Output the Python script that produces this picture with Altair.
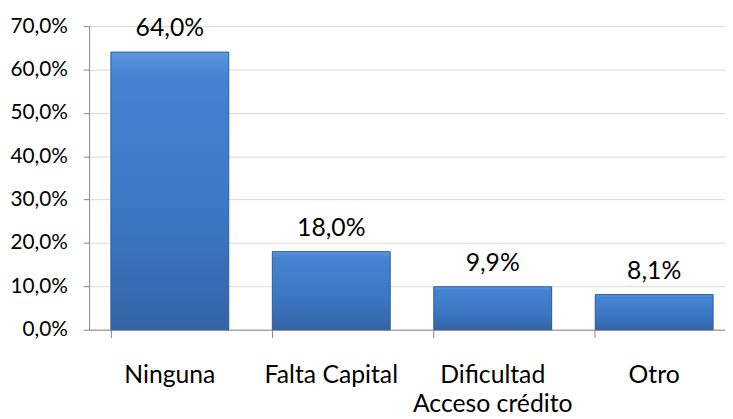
import altair as alt
import pandas as pd

categories = ["Ninguna", "Falta Capital", "Dificultad|Acceso crédito", "Otro"]
values = [64.0, 18.0, 9.9, 8.1]

df = pd.DataFrame({"cat": categories, "val": values})

FONT = "Lato"

x_enc = alt.X(
    "cat:N",
    sort=categories,
    scale=alt.Scale(paddingInner=0.27, paddingOuter=0.135),
    axis=alt.Axis(
        title=None,
        labelAngle=0,
        labelExpr="split(datum.label, '|')",
        labelFont=FONT,
        labelFontSize=25,
        labelColor="#000000",
        labelPadding=25,
        labelLineHeight=30,
        tickSize=8,
        tickColor="#888888",
        domainColor="#888888",
        bandPosition=0,
        grid=False,
    ),
)

y_enc = alt.Y(
    "val:Q",
    scale=alt.Scale(domain=[0, 70], nice=False),
    axis=alt.Axis(
        title=None,
        values=[0, 10, 20, 30, 40, 50, 60, 70],
        labelExpr="replace(format(datum.value, '.1f'), '.', ',') + '%'",
        labelFont=FONT,
        labelFontSize=21,
        labelColor="#000000",
        labelPadding=16,
        tickSize=6,
        tickColor="#888888",
        domainColor="#888888",
        gridColor="#d9d9d9",
        grid=True,
    ),
)

bars = alt.Chart(df).mark_bar(
    color=alt.Gradient(
        gradient="linear",
        stops=[
            alt.GradientStop(color="#5a98e2", offset=0),
            alt.GradientStop(color="#4584d4", offset=0.08),
            alt.GradientStop(color="#3b76c2", offset=0.6),
            alt.GradientStop(color="#3464a8", offset=1),
        ],
        x1=0, x2=0, y1=0, y2=1,
    ),
    stroke="#2d5a96",
    strokeWidth=1,
).encode(x=x_enc, y=y_enc)

labels = alt.Chart(df).transform_calculate(
    lab="replace(format(datum.val, '.1f'), '.', ',') + '%'"
).mark_text(
    font=FONT, fontSize=25, color="#000000", baseline="alphabetic", dy=-16
).encode(x=alt.X("cat:N", sort=categories), y="val:Q", text="lab:N")

chart = (
    alt.layer(bars, labels)
    .properties(
        width=653,
        height=307,
        autosize=alt.AutoSizeParams(type="none"),
        padding={"left": 82, "top": 16, "right": -10, "bottom": 88},
        background="#ffffff",
    )
    .configure_view(stroke=None)
)

chart.save("out.html", embed_options={"renderer": "svg", "actions": False})
